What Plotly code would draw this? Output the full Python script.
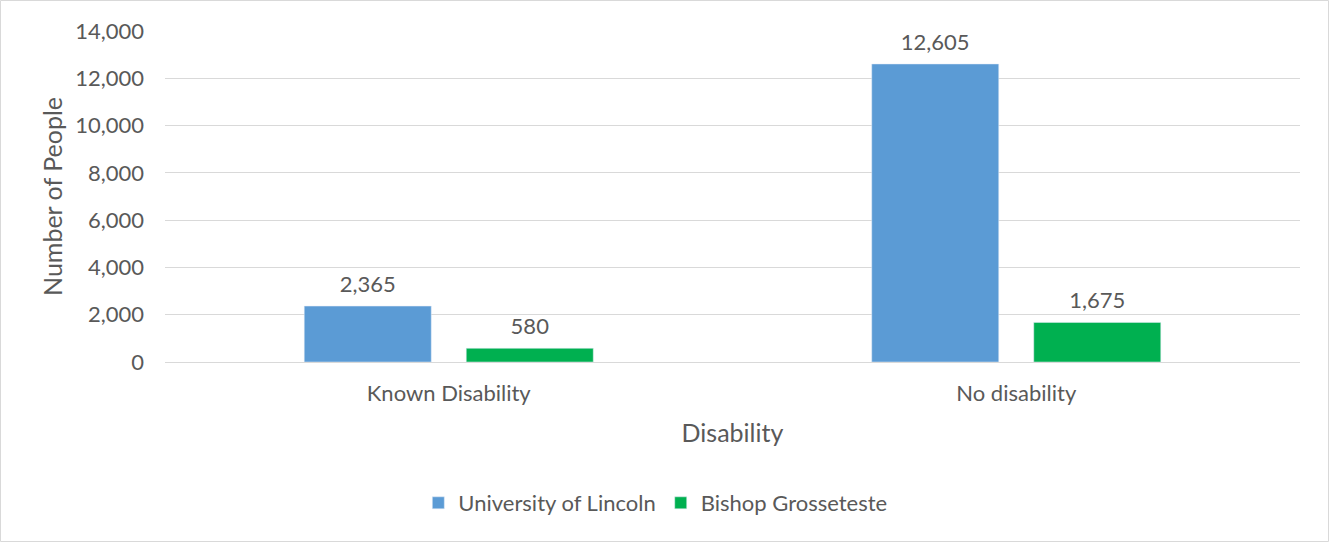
import plotly.graph_objects as go

categories = ["Known Disability", "No disability"]
lincoln = [2365, 12605]
bishop = [580, 1675]
series_names = ["University of Lincoln", "Bishop Grosseteste"]
y_ticks = [0, 2000, 4000, 6000, 8000, 10000, 12000, 14000]

W, H = 1329, 542
L, R, T, B = 165, 29, 31, 180
FONT = "Lato, 'Open Sans', sans-serif"
TXT = "#595959"

fig = go.Figure()
for name, vals, col, grp in [(series_names[0], lincoln, "#5B9BD5", "a"),
                             (series_names[1], bishop, "#00B050", "b")]:
    fig.add_bar(x=categories, y=vals, name=name, marker_color=col,
                offsetgroup=grp, hoverinfo="skip")
for vals, grp in [(lincoln, "a"), (bishop, "b")]:
    fig.add_scatter(x=categories, y=vals, mode="markers+text", offsetgroup=grp,
                    text=[f"{v:,}" for v in vals], textposition="top center",
                    textfont=dict(size=22, color=TXT),
                    marker=dict(size=12, opacity=0), showlegend=False,
                    hoverinfo="skip", cliponaxis=False)

pw = W - L - R
ph = H - T - B
def px(x):
    return (x - L) / pw
def py(y):
    return (H - B - y) / ph

fig.update_layout(
    width=W, height=H,
    margin=dict(l=L, r=R, t=T, b=B),
    barmode="group", bargap=0.429, bargroupgap=0.216,
    scattermode="group", scattergap=0.429,
    plot_bgcolor="white", paper_bgcolor="white",
    font=dict(family=FONT, color=TXT, size=22),
    xaxis=dict(title=dict(text="Disability", font=dict(size=25, color=TXT), standoff=19),
               tickfont=dict(size=22, color=TXT), showline=False, showgrid=False,
               ticks="", ticklabelstandoff=16),
    yaxis=dict(title=dict(text="Number of People", font=dict(size=25, color=TXT), standoff=5),
               range=[0, 14000], tickvals=y_ticks, tickformat=",",
               tickfont=dict(size=22, color=TXT), gridcolor="#D9D9D9", gridwidth=1.3,
               zeroline=True, zerolinecolor="#D9D9D9", zerolinewidth=1.3, showline=False,
               ticklabelstandoff=20),
    legend=dict(orientation="h", x=0.432, xanchor="center", y=py(503), yanchor="middle",
                font=dict(size=22, color=TXT), itemwidth=30, traceorder="normal"),
    shapes=[dict(type="rect", xref="paper", yref="paper",
                 x0=px(0.5), x1=px(W - 0.5), y0=py(H - 0.5), y1=py(0.5),
                 line=dict(color="#D9D9D9", width=1))],
)
fig.write_html("out.html", config={"displayModeBar": False},
               post_script="document.body.style.margin='0px';")
